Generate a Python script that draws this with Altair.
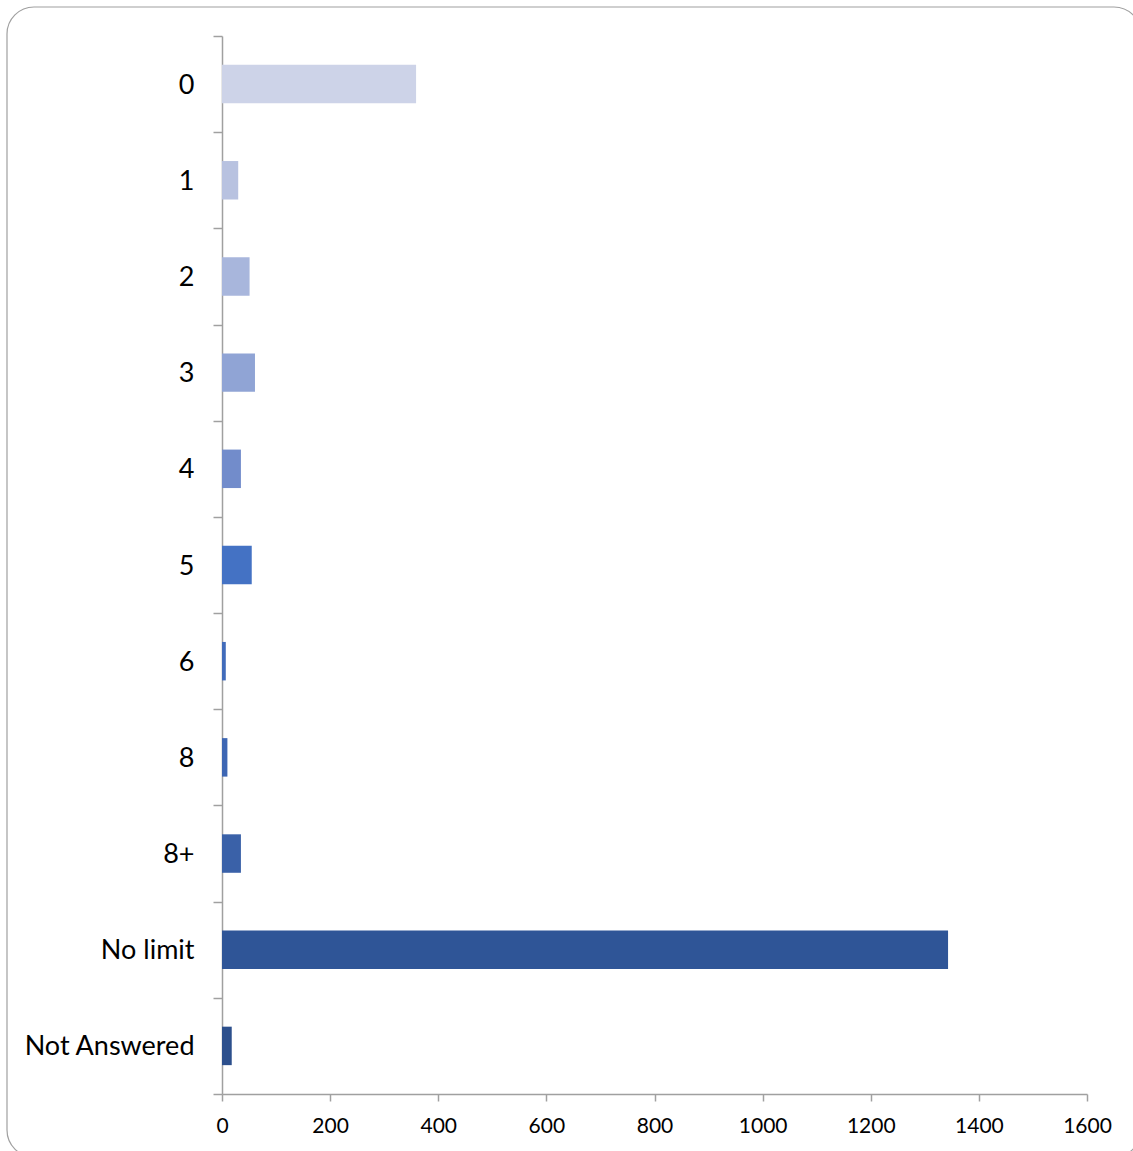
import altair as alt
import pandas as pd

# Survey responses per answer category
categories = ["0", "1", "2", "3", "4", "5", "6", "8", "8+", "No limit", "Not Answered"]
counts = [359, 30, 51, 61, 35, 55, 7, 10, 35, 1343, 18]
bar_colors = ["#CDD3E8", "#B8C2E0", "#A8B6DC", "#90A4D5", "#728CCB", "#4472C4",
              "#416BBA", "#3D66B3", "#3A61A8", "#2F5597", "#2C4F8C"]
x_ticks = [0, 200, 400, 600, 800, 1000, 1200, 1400, 1600]

df = pd.DataFrame({"category": categories, "count": counts})

FONT = "Lato"
AXIS_GRAY = "#A0A0A0"

bars = alt.Chart(df).mark_bar(height={"band": 0.4}).encode(
    y=alt.Y(
        "category:N",
        sort=categories,
        title=None,
        scale=alt.Scale(paddingInner=0, paddingOuter=0),
        axis=alt.Axis(
            tickBand="extent",
            tickSize=9,
            tickColor=AXIS_GRAY,
            tickWidth=1.5,
            domainColor=AXIS_GRAY,
            domainWidth=1.5,
            labelFont=FONT,
            labelFontSize=27,
            labelColor="#000000",
            labelPadding=19,
            labelOffset=1,
            grid=False,
        ),
    ),
    x=alt.X(
        "count:Q",
        title=None,
        scale=alt.Scale(domain=[0, 1600], nice=False),
        axis=alt.Axis(
            values=x_ticks,
            format="d",
            tickSize=7,
            tickColor=AXIS_GRAY,
            tickWidth=1.5,
            domainColor=AXIS_GRAY,
            domainWidth=1.5,
            labelFont=FONT,
            labelFontSize=21,
            labelColor="#000000",
            labelPadding=14,
            labelFlush=False,
            grid=False,
        ),
    ),
    color=alt.Color(
        "category:N",
        scale=alt.Scale(domain=categories, range=bar_colors),
        legend=None,
    ),
)

# Rounded border around the whole chart
frame = alt.Chart(pd.DataFrame({"k": [0]})).mark_rect(
    fill=None, stroke="#A0A0A0", strokeWidth=1.2, cornerRadius=27
).encode(
    x=alt.value(-215),
    x2=alt.value(919),
    y=alt.value(-29),
    y2=alt.value(1121),
)

chart = alt.layer(frame, bars).properties(
    width=865,
    height=1058,
    padding={"left": 222, "top": 36, "right": 46, "bottom": 57},
    autosize=alt.AutoSizeParams(type="none"),
    background="#FFFFFF",
).configure_view(stroke=None)

chart.save("out.html", embed_options={"renderer": "svg", "actions": False})
